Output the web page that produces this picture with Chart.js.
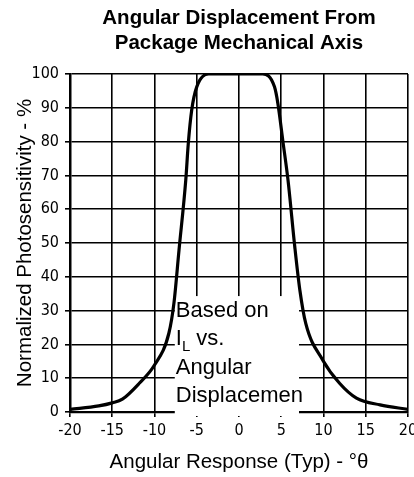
<!DOCTYPE html>
<html>
<head>
<meta charset="utf-8">
<script src="https://cdn.jsdelivr.net/npm/chart.js@4/dist/chart.umd.min.js"></script>
<style>
  html, body { margin: 0; padding: 0; background: #fff; }
  #wrap { width: 414px; height: 477px; }
</style>
</head>
<body>
<div id="wrap"><canvas id="angularChart" width="414" height="477"></canvas></div>
<script>
// values
const angles = [-20, -16.6, -15, -13.8, -11.8, -10, -8.3, -7.7, -7.1, -6.3, -6.0, -5.6, -5.0, -3.6, 0, 2.8, 4.2, 4.6, 5.2, 5.8, 6.6, 7.2, 7.9, 9.9, 11.9, 13.9, 16.7, 20];
const sensitivity = [0.8, 1.8, 2.7, 3.8, 8.5, 13.9, 23.3, 32.2, 47.9, 68.6, 79.5, 89.3, 96.2, 100, 100, 100, 96.2, 91.3, 80, 68.6, 48.9, 36.1, 26.2, 15.4, 8.5, 4.1, 2.1, 0.8];
const xTicks = [-20, -15, -10, -5, 0, 5, 10, 15, 20];
const yTicks = [0, 10, 20, 30, 40, 50, 60, 70, 80, 90, 100];
const noteLines = [
    [['Based on']],
    [['I'], ['L', 'sub'], [' vs.']],
    [['Angular']],
    [['Displacemen']]
];

const narrow = "'Liberation Sans Narrow', 'DejaVu Sans Condensed', 'Liberation Sans', sans-serif";
const sans = "'Liberation Sans', Arial, sans-serif";

// white label box that hides the grid behind the note
const noteBox = {
    id: 'noteBox',
    beforeDatasetsDraw(chart) {
        const {ctx, scales: {x, y}, chartArea} = chart;
        const left = x.getPixelForValue(-7.6);
        const right = x.getPixelForValue(7.1);
        const top = y.getPixelForValue(34.3);
        ctx.save();
        ctx.fillStyle = '#fff';
        ctx.fillRect(left, top, right - left, chartArea.bottom + 4 - top);
        ctx.restore();
    },
    afterDatasetsDraw(chart) {
        const {ctx, scales: {x, y}} = chart;
        const left = x.getPixelForValue(-7.6) + 1;
        const top = y.getPixelForValue(34.3);
        ctx.save();
        ctx.fillStyle = '#000';
        ctx.textBaseline = 'alphabetic';
        noteLines.forEach((parts, i) => {
            let cx = left;
            const base = top + 21 + i * 28.3;
            parts.forEach(([txt, kind]) => {
                const sub = kind === 'sub';
                ctx.font = (sub ? '15px ' : '22px ') + sans;
                ctx.fillText(txt, cx, base + (sub ? 6 : 0));
                cx += ctx.measureText(txt).width;
            });
        });
        ctx.restore();
    }
};

const ctx = document.getElementById('angularChart').getContext('2d');
new Chart(ctx, {
    type: 'scatter',
    data: {
        datasets: [{
            data: angles.map((a, i) => ({x: a, y: sensitivity[i]})),
            showLine: true,
            borderColor: '#000',
            borderWidth: 3.2,
            pointRadius: 0,
            cubicInterpolationMode: 'monotone'
        }]
    },
    options: {
        responsive: false,
        devicePixelRatio: 1,
        animation: false,
        events: [],
        layout: { padding: { top: 0, right: 6, bottom: 0, left: 0 } },
        plugins: {
            legend: { display: false },
            tooltip: { enabled: false },
            title: {
                display: true,
                fullSize: false,
                text: ['Angular Displacement From', 'Package Mechanical Axis'],
                color: '#000',
                font: { family: sans, size: 20.5, weight: 'bold', lineHeight: 1.22 },
                padding: { top: 6, bottom: 18 }
            }
        },
        scales: {
            x: {
                type: 'linear',
                min: -20,
                max: 20,
                afterBuildTicks: s => { s.ticks = xTicks.map(v => ({value: v})); },
                afterFit: s => { s.height = 65; s.paddingLeft = 0; s.paddingRight = 0; },
                ticks: { color: '#000', font: { family: narrow, size: 16 }, padding: 4, maxRotation: 0 },
                grid: { color: '#000', lineWidth: 1.6, tickLength: 5 },
                border: { color: '#000', width: 2.2 },
                title: {
                    display: true,
                    text: 'Angular Response (Typ) - °θ',
                    color: '#000',
                    font: { family: sans, size: 20.5 },
                    padding: { top: 0, bottom: 2 }
                }
            },
            y: {
                min: 0,
                max: 100,
                afterBuildTicks: s => { s.ticks = yTicks.map(v => ({value: v})); },
                afterFit: s => { s.width = 70; s.paddingTop = 0; s.paddingBottom = 0; },
                ticks: { color: '#000', font: { family: narrow, size: 16 }, padding: 6 },
                grid: { color: '#000', lineWidth: 1.6, tickLength: 5 },
                border: { color: '#000', width: 2.5 },
                title: {
                    display: true,
                    text: 'Normalized Photosensitivity - %',
                    color: '#000',
                    font: { family: sans, size: 20.5 },
                    padding: { top: 12.7, bottom: 0 }
                }
            }
        }
    },
    plugins: [noteBox]
});
</script>
</body>
</html>
